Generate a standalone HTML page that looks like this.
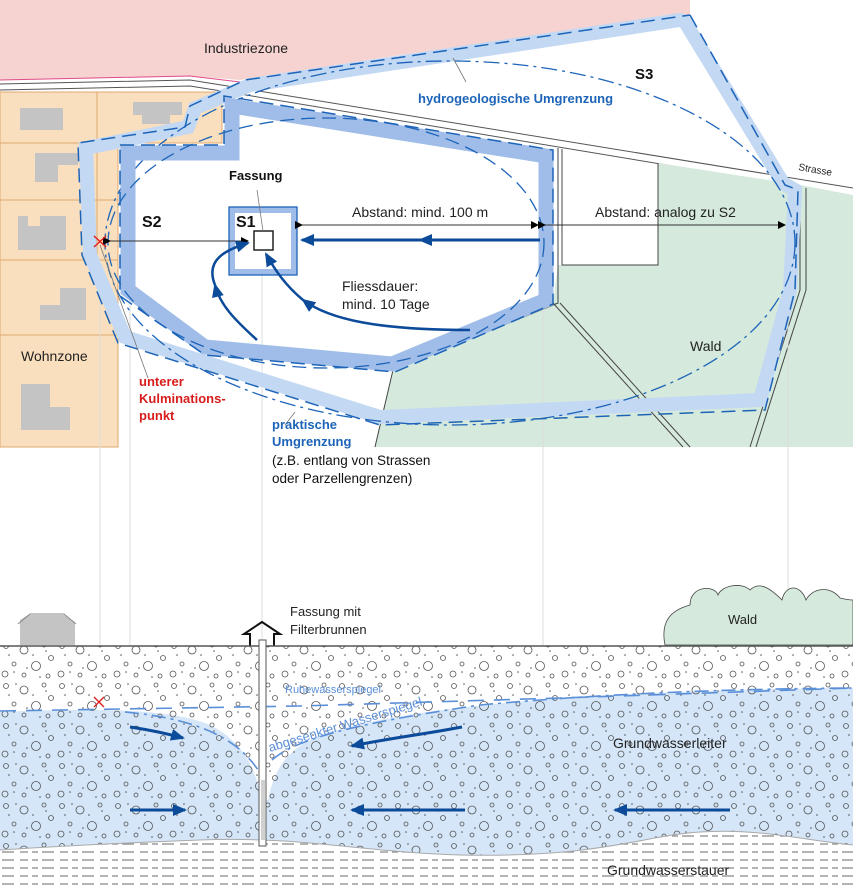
<!DOCTYPE html>
<html><head><meta charset="utf-8"><style>
html,body{margin:0;padding:0;background:#fff}
svg{display:block}
text{font-family:"Liberation Sans",sans-serif}
</style></head><body>
<svg width="853" height="891" viewBox="0 0 853 891" xmlns="http://www.w3.org/2000/svg">
<defs>
<pattern id="grav" width="56" height="40" patternUnits="userSpaceOnUse">
<g fill="none" stroke="#555" stroke-width="0.8">
<circle cx="6" cy="6" r="2.5"/><circle cx="24" cy="10" r="4"/><circle cx="44" cy="5" r="2"/>
<circle cx="14" cy="24" r="2"/><circle cx="36" cy="26" r="4.5"/><circle cx="51" cy="18" r="2.5"/>
<circle cx="5" cy="34" r="3"/><circle cx="24" cy="35" r="2"/><circle cx="48" cy="36" r="2"/>
</g>
<g fill="#555"><circle cx="16" cy="4" r="0.8"/><circle cx="33" cy="15" r="0.8"/><circle cx="9" cy="15" r="0.8"/><circle cx="46" cy="11" r="0.8"/><circle cx="27" cy="28" r="0.8"/><circle cx="40" cy="37" r="0.8"/><circle cx="14" cy="32" r="0.8"/></g>
</pattern>
<pattern id="clay" width="40" height="8" patternUnits="userSpaceOnUse">
<path d="M2 4h12M20 4h8M32 4h6" stroke="#888" stroke-width="1.2"/>
</pattern>
<marker id="ak" markerWidth="8" markerHeight="8" refX="7" refY="4" orient="auto" markerUnits="userSpaceOnUse"><path d="M0 0L8 4L0 8z" fill="#000"/></marker>
<marker id="ab" markerWidth="14" markerHeight="12" refX="12" refY="6" orient="auto" markerUnits="userSpaceOnUse"><path d="M0 0L14 6L0 12z" fill="#0c4a9a"/></marker>
</defs>

<!-- ===== MAP ===== -->
<rect x="0" y="0" width="853" height="447" fill="#fff"/>
<path d="M0 0H690V15L400 55L240 80L190 76L0 80Z" fill="#f6d3d0"/>
<path d="M0 80L190 76L240 82L690 15" fill="none" stroke="#e04a8a" stroke-width="1"/>
<path d="M0 84L190 80L240 88L853 188" fill="none" stroke="#555" stroke-width="1"/>
<path d="M0 90L190 86L240 94L853 196" fill="none" stroke="#555" stroke-width="1"/>
<path d="M0 92H222V143H118V447H0Z" fill="#f9dfbd" stroke="#e0a870" stroke-width="1"/>
<path d="M0 143H118M0 200H118M0 260H118M0 335H118M97 92V260" stroke="#e0a870" stroke-width="1"/>
<g fill="#c4c4c4">
<rect x="20" y="108" width="43" height="22"/>
<path d="M133 102H182V115H170V124H142V115H133Z"/>
<path d="M35 153H78V165H58V182H35Z"/>
<path d="M18 216H28V226H40V216H66V250H18Z"/>
<path d="M40 305H60V288H86V320H40Z"/>
<path d="M21 384H50V407H70V430H21Z"/>
</g>
<path d="M558 265H658V163L800 185L853 195V447H375L393 370L553 303Z" fill="#d5e9dc"/>
<path d="M558 148V303L393 370L375 447" fill="none" stroke="#444" stroke-width="1"/>
<path d="M562 149V265H658V163" fill="none" stroke="#444" stroke-width="1"/>
<path d="M553 303L683 447M560 303L690 447" stroke="#444" stroke-width="1"/>
<path d="M800 187V290L750 447M806 188V290L756 447" stroke="#444" stroke-width="1" fill="none"/>
<g stroke="#ddd" stroke-width="1">
<line x1="100" y1="260" x2="100" y2="645"/><line x1="130" y1="300" x2="130" y2="645"/>
<line x1="262" y1="270" x2="262" y2="640"/><line x1="543" y1="300" x2="543" y2="645"/>
<line x1="788" y1="300" x2="788" y2="645"/></g>

<path d="M685 22L783 183L795 190L790 290L760 400L380 417L125 337L90 255L86 148L150 135L188 127L195 108L250 85L680 20Z" fill="none" stroke="#c3d8f3" stroke-width="14"/>
<path d="M690 15L785 185L798 190L795 290L765 410L380 425L118 343L82 255L78 143L185 127L190 106L245 80L690 15" fill="none" stroke="#1d64b8" stroke-width="1.5" stroke-dasharray="14 7"/>
<ellipse cx="450" cy="243" rx="345" ry="182" fill="none" stroke="#1d64b8" stroke-width="1.3" stroke-dasharray="16 5 3 5"/>

<path d="M128 153H232V106L546 156V300L392 364L205 347L128 290Z" fill="none" stroke="#9fbde8" stroke-width="15"/>
<path d="M120 145H224V96L553 150V304L395 372L205 355L120 296Z" fill="none" stroke="#1d64b8" stroke-width="1.5" stroke-dasharray="14 7"/>
<ellipse cx="326" cy="243" rx="218" ry="125" fill="none" stroke="#1d64b8" stroke-width="1.3" stroke-dasharray="14 7"/>

<rect x="232" y="210" width="62" height="62" fill="#fff" stroke="#9fbde8" stroke-width="6"/>
<rect x="229" y="207" width="68" height="68" fill="none" stroke="#1d64b8" stroke-width="1.3"/>
<rect x="254" y="231" width="19" height="19" fill="#fff" stroke="#222" stroke-width="1.5"/>
<line x1="257" y1="190" x2="263" y2="231" stroke="#777" stroke-width="0.8"/>

<line x1="110" y1="241" x2="248" y2="241" stroke="#333" stroke-width="0.9" marker-start="url(#ak)" marker-end="url(#ak)"/>
<line x1="302" y1="225" x2="538" y2="225" stroke="#333" stroke-width="0.9" marker-start="url(#ak)" marker-end="url(#ak)"/>
<line x1="545" y1="225" x2="785" y2="225" stroke="#333" stroke-width="0.9" marker-start="url(#ak)" marker-end="url(#ak)"/>
<line x1="540" y1="240" x2="420" y2="240" stroke="#0c4a9a" stroke-width="3" marker-end="url(#ab)"/>
<line x1="420" y1="240" x2="302" y2="240" stroke="#0c4a9a" stroke-width="3" marker-end="url(#ab)"/>
<path d="M257 340C235 320 220 305 215 285" fill="none" stroke="#0c4a9a" stroke-width="2.5" marker-end="url(#ab)"/>
<path d="M215 285C205 260 225 250 248 243" fill="none" stroke="#0c4a9a" stroke-width="2.5" marker-end="url(#ab)"/>
<path d="M470 330C380 330 330 320 303 300" fill="none" stroke="#0c4a9a" stroke-width="2.5" marker-end="url(#ab)"/>
<path d="M303 300C285 285 275 270 266 254" fill="none" stroke="#0c4a9a" stroke-width="2.5" marker-end="url(#ab)"/>
<line x1="100" y1="245" x2="148" y2="378" stroke="#777" stroke-width="0.8"/>
<line x1="453" y1="58" x2="466" y2="82" stroke="#777" stroke-width="0.8"/>
<line x1="295" y1="412" x2="285" y2="425" stroke="#777" stroke-width="0.8"/>
<path d="M94 236L106 247M106 236L94 247" stroke="#e02020" stroke-width="1.5"/>

<text x="204" y="53" font-size="14" fill="#222">Industriezone</text>
<text x="418" y="103" font-size="13" font-weight="bold" fill="#1d64b8">hydrogeologische Umgrenzung</text>
<text x="635" y="79" font-size="15" font-weight="bold" fill="#111">S3</text>
<text x="798" y="170" font-size="10" fill="#222" transform="rotate(10 798 170)">Strasse</text>
<text x="229" y="180" font-size="13" font-weight="bold" fill="#111">Fassung</text>
<text x="142" y="227" font-size="16" font-weight="bold" fill="#111">S2</text>
<text x="236" y="227" font-size="16" font-weight="bold" fill="#111">S1</text>
<text x="352" y="217" font-size="14" fill="#222">Abstand: mind. 100 m</text>
<text x="595" y="217" font-size="14" fill="#222">Abstand: analog zu S2</text>
<text x="342" y="291" font-size="14" fill="#222">Fliessdauer:</text>
<text x="342" y="309" font-size="14" fill="#222">mind. 10 Tage</text>
<text x="690" y="351" font-size="14" fill="#222">Wald</text>
<text x="21" y="361" font-size="14" fill="#222">Wohnzone</text>
<text x="139" y="386" font-size="13" font-weight="bold" fill="#d81d1d">unterer</text>
<text x="139" y="403" font-size="13" font-weight="bold" fill="#d81d1d">Kulminations-</text>
<text x="139" y="420" font-size="13" font-weight="bold" fill="#d81d1d">punkt</text>
<text x="272" y="429" font-size="13" font-weight="bold" fill="#1d64b8">praktische</text>
<text x="272" y="446" font-size="13" font-weight="bold" fill="#1d64b8">Umgrenzung</text>
<text x="272" y="465" font-size="13.5" fill="#111">(z.B. entlang von Strassen</text>
<text x="272" y="483" font-size="13.5" fill="#111">oder Parzellengrenzen)</text>

<!-- ===== SECTION ===== -->
<path d="M20 620L28 615H64L75 622V645H20Z" fill="#c4c4c4"/>
<path d="M18 624L30 614H64L76 624" fill="none" stroke="#888" stroke-width="1"/>
<path d="M250 646V634L244 634L262 622L280 634L274 634V646" fill="none" stroke="#111" stroke-width="2"/>
<path d="M665 645C660 620 672 610 690 605C690 585 715 585 718 595C722 585 742 582 750 590C760 580 772 590 782 600C785 585 800 583 806 600C812 588 830 585 840 598C848 600 853 600 853 600V645Z" fill="#d5e9dc" stroke="#444" stroke-width="0.8"/>
<text x="728" y="624" font-size="13" fill="#222">Wald</text>
<text x="290" y="616" font-size="13" fill="#222">Fassung mit</text>
<text x="290" y="634" font-size="13" fill="#222">Filterbrunnen</text>

<rect x="0" y="646" width="853" height="245" fill="#fff"/>
<path d="M0 712C90 708 170 708 210 725C240 740 255 765 262 800L268 800C275 765 290 745 330 732C420 705 600 690 853 688V845C800 840 760 828 700 832C640 836 600 858 460 855C360 852 300 836 200 840C120 843 60 846 0 850Z" fill="#d4e6f8"/>
<rect x="0" y="646" width="853" height="210" fill="url(#grav)"/>
<path d="M0 850C60 846 120 843 200 840C300 836 360 852 460 855C600 858 640 836 700 832C760 828 800 840 853 845V891H0Z" fill="#fff"/>
<path d="M0 850C60 846 120 843 200 840C300 836 360 852 460 855C600 858 640 836 700 832C760 828 800 840 853 845V891H0Z" fill="url(#clay)"/>
<path d="M0 850C60 846 120 843 200 840C300 836 360 852 460 855C600 858 640 836 700 832C760 828 800 840 853 845" fill="none" stroke="#aaa" stroke-width="1"/>
<line x1="0" y1="646" x2="853" y2="646" stroke="#555" stroke-width="1.5"/>
<path d="M0 711L300 706L560 698L853 688" fill="none" stroke="#5b8fd8" stroke-width="1.6" stroke-dasharray="16 10"/>
<path d="M125 712C190 718 235 735 258 770M272 760C300 735 380 720 480 705C600 694 720 689 853 688" fill="none" stroke="#5b8fd8" stroke-width="1.6" stroke-dasharray="14 5 3 5"/>
<rect x="259" y="640" width="7" height="206" fill="#fff" stroke="#555" stroke-width="1"/>
<path d="M262 780V840M264 780V840" stroke="#666" stroke-width="0.6"/>
<path d="M94 697L104 707M104 697L94 707" stroke="#e02020" stroke-width="1.4"/>
<path d="M130 727C150 730 165 733 183 738" fill="none" stroke="#0c4a9a" stroke-width="3" marker-end="url(#ab)"/>
<line x1="130" y1="810" x2="185" y2="810" stroke="#0c4a9a" stroke-width="3" marker-end="url(#ab)"/>
<path d="M462 727C420 735 390 738 352 746" fill="none" stroke="#0c4a9a" stroke-width="3" marker-end="url(#ab)"/>
<line x1="465" y1="810" x2="352" y2="810" stroke="#0c4a9a" stroke-width="3" marker-end="url(#ab)"/>
<line x1="730" y1="810" x2="615" y2="810" stroke="#0c4a9a" stroke-width="3" marker-end="url(#ab)"/>
<text x="285" y="693" font-size="11" fill="#5b8fd8">Ruhewasserspiegel</text>
<text x="270" y="752" font-size="13" fill="#5b8fd8" transform="rotate(-17 270 752)">abgesenkter Wasserspiegel</text>
<text x="613" y="748" font-size="14" fill="#222">Grundwasserleiter</text>
<text x="607" y="875" font-size="14" fill="#222">Grundwasserstauer</text>
</svg>
</body></html>
